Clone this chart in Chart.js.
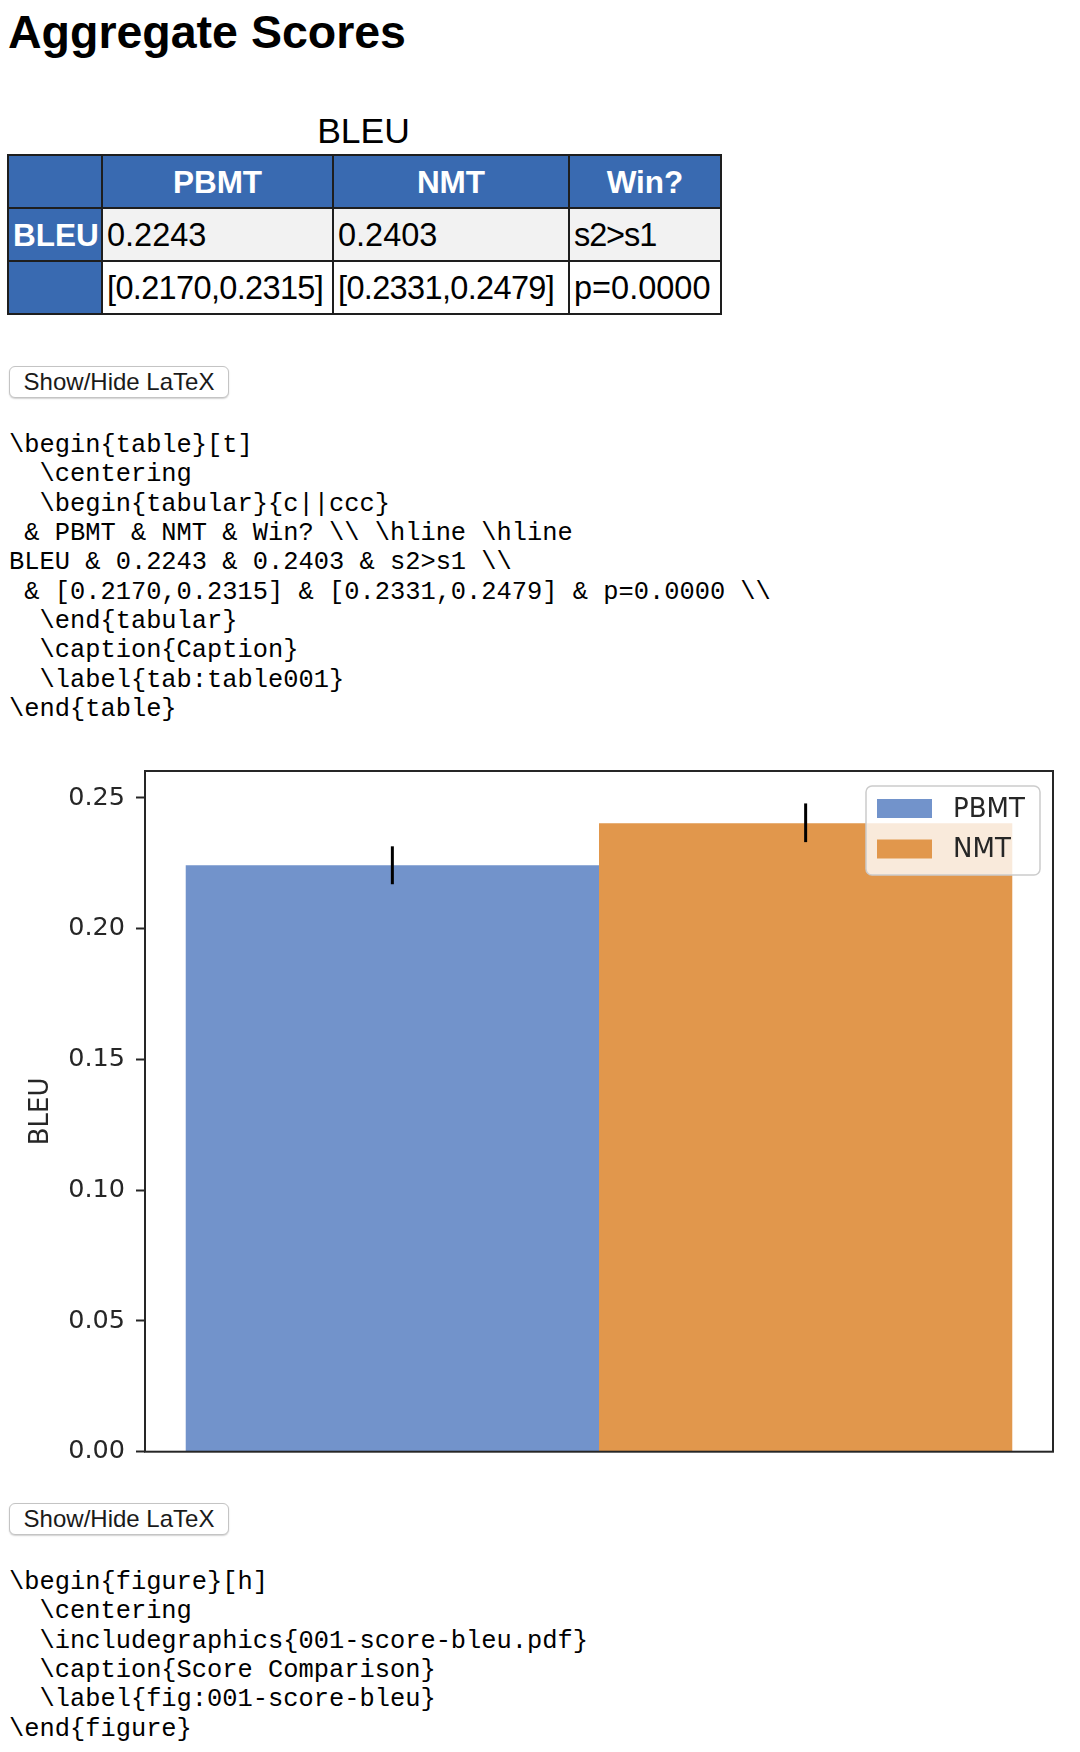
<!DOCTYPE html>
<html>
<head>
<meta charset="utf-8">
<title>Aggregate Scores</title>
<script src="https://cdn.jsdelivr.net/npm/chart.js@4.4.1/dist/chart.umd.min.js"></script>
<style>
html,body{margin:0;padding:0;background:#fff;width:1080px;height:1752px;overflow:hidden;}
body{position:relative;font-family:"Liberation Sans",Arial,Helvetica,sans-serif;color:#000;}
h1{position:absolute;left:8px;top:4px;margin:0;font-size:46.5px;line-height:56px;font-weight:bold;white-space:nowrap;}
.cap{position:absolute;left:7px;width:713px;top:111px;text-align:center;font-size:35.5px;line-height:40px;}
table{position:absolute;left:7px;top:154px;border-collapse:collapse;table-layout:fixed;width:713px;}
td,th{border:2px solid #1e1e1e;height:51px;padding:0 4px;font-size:32.5px;line-height:36px;white-space:nowrap;overflow:visible;}
th{background:#396AB1;color:#fff;font-weight:bold;font-size:31.5px;text-align:center;}
td{text-align:left;}
td.ci{letter-spacing:-0.65px;}
td.win{letter-spacing:-1.1px;}
tr.r1 td{background:#f2f2f2;}
.btn{position:absolute;left:9px;width:220px;height:32px;box-sizing:border-box;border:1px solid #c4c4c4;border-radius:6px;background:#fff;box-shadow:0 1px 1.5px rgba(0,0,0,0.18);font-size:24px;line-height:30px;text-align:center;color:#1a1a1a;}
pre{position:absolute;left:9px;margin:0;font-family:"Liberation Mono","DejaVu Sans Mono",monospace;font-size:25.4px;line-height:29.35px;color:#000;}
#chartWrap{position:absolute;left:0;top:740px;width:1080px;height:738px;}
</style>
</head>
<body>
<h1>Aggregate Scores</h1>
<div class="cap" id="tcap">BLEU</div>
<table id="scoreTable">
<colgroup><col style="width:94px"><col style="width:231px"><col style="width:236px"><col style="width:152px"></colgroup>
<tbody id="tbody"></tbody>
</table>
<div class="btn" style="top:366px">Show/Hide LaTeX</div>
<pre style="top:431px">\begin{table}[t]
  \centering
  \begin{tabular}{c||ccc}
 &amp; PBMT &amp; NMT &amp; Win? \\ \hline \hline
BLEU &amp; 0.2243 &amp; 0.2403 &amp; s2&gt;s1 \\
 &amp; [0.2170,0.2315] &amp; [0.2331,0.2479] &amp; p=0.0000 \\
  \end{tabular}
  \caption{Caption}
  \label{tab:table001}
\end{table}</pre>
<div id="chartWrap"><canvas id="chart" width="1080" height="738"></canvas></div>
<div class="btn" style="top:1503px">Show/Hide LaTeX</div>
<pre style="top:1568px">\begin{figure}[h]
  \centering
  \includegraphics{001-score-bleu.pdf}
  \caption{Score Comparison}
  \label{fig:001-score-bleu}
\end{figure}</pre>

<script>
// ---- data ----
const metricName = 'BLEU';
const categories = ['BLEU'];
const seriesNames = ['PBMT', 'NMT'];
const pbmtScore = [0.2243];
const nmtScore = [0.2403];
const pbmtLow = [0.2170];
const pbmtHigh = [0.2315];
const nmtLow = [0.2331];
const nmtHigh = [0.2479];
const winLabel = 's2>s1';
const pLabel = 'p=0.0000';
const yTicks = [0, 0.05, 0.10, 0.15, 0.20, 0.25];

// ---- table built from the data ----
(function buildTable(){
  const tb = document.getElementById('tbody');
  const mk = (tag, txt, cls) => { const e = document.createElement(tag); e.textContent = txt; if (cls) e.className = cls; return e; };
  const r0 = document.createElement('tr');
  r0.appendChild(mk('th', ''));
  seriesNames.forEach(n => r0.appendChild(mk('th', n)));
  r0.appendChild(mk('th', 'Win?'));
  const r1 = document.createElement('tr'); r1.className = 'r1';
  r1.appendChild(mk('th', metricName));
  r1.appendChild(mk('td', pbmtScore[0].toFixed(4)));
  r1.appendChild(mk('td', nmtScore[0].toFixed(4)));
  r1.appendChild(mk('td', winLabel, 'win'));
  const r2 = document.createElement('tr');
  r2.appendChild(mk('th', ''));
  r2.appendChild(mk('td', '[' + pbmtLow[0].toFixed(4) + ',' + pbmtHigh[0].toFixed(4) + ']', 'ci'));
  r2.appendChild(mk('td', '[' + nmtLow[0].toFixed(4) + ',' + nmtHigh[0].toFixed(4) + ']', 'ci'));
  r2.appendChild(mk('td', pLabel));
  tb.appendChild(r0); tb.appendChild(r1); tb.appendChild(r2);
})();

// ---- plugins ----
const errorBarPlugin = {
  id: 'errorBars',
  afterDatasetsDraw(chart) {
    const ctx = chart.ctx, y = chart.scales.y;
    chart.data.datasets.forEach((ds, i) => {
      const meta = chart.getDatasetMeta(i);
      meta.data.forEach((bar, j) => {
        const lo = y.getPixelForValue(ds.ciLow[j]);
        const hi = y.getPixelForValue(ds.ciHigh[j]);
        ctx.save();
        ctx.strokeStyle = '#000';
        ctx.lineWidth = 3;
        ctx.beginPath();
        ctx.moveTo(bar.x, lo);
        ctx.lineTo(bar.x, hi);
        ctx.stroke();
        ctx.restore();
      });
    });
  }
};

const framePlugin = {
  id: 'frame',
  afterDraw(chart) {
    const a = chart.chartArea, ctx = chart.ctx;
    ctx.save();
    ctx.strokeStyle = '#262626';
    ctx.lineWidth = 2;
    ctx.strokeRect(a.left, a.top, a.right - a.left, a.bottom - a.top);
    ctx.restore();
  }
};

const boxLegendPlugin = {
  id: 'boxLegend',
  afterDraw(chart) {
    const a = chart.chartArea, ctx = chart.ctx;
    const bw = 174, bh = 89;
    const bx = a.right - 13 - bw, by = a.top + 15;
    ctx.save();
    ctx.beginPath();
    if (ctx.roundRect) ctx.roundRect(bx, by, bw, bh, 6); else ctx.rect(bx, by, bw, bh);
    ctx.fillStyle = 'rgba(255,255,255,0.8)';
    ctx.fill();
    ctx.strokeStyle = '#cccccc';
    ctx.lineWidth = 1.5;
    ctx.stroke();
    ctx.font = '26px "DejaVu Sans"';
    ctx.textBaseline = 'middle';
    ctx.textAlign = 'left';
    chart.data.datasets.forEach((ds, i) => {
      const sy = by + 13 + i * 40.5;
      ctx.fillStyle = ds.backgroundColor;
      ctx.fillRect(bx + 11, sy, 55, 19);
      ctx.fillStyle = '#262626';
      ctx.fillText(ds.label, bx + 87, sy + 11);
    });
    ctx.restore();
  }
};

// ---- chart ----
new Chart(document.getElementById('chart'), {
  type: 'bar',
  data: {
    labels: categories,
    datasets: [
      { label: seriesNames[0], data: pbmtScore, ciLow: pbmtLow, ciHigh: pbmtHigh,
        backgroundColor: '#7293CB', borderWidth: 0, categoryPercentage: 0.9103, barPercentage: 1.0 },
      { label: seriesNames[1], data: nmtScore, ciLow: nmtLow, ciHigh: nmtHigh,
        backgroundColor: '#E1974C', borderWidth: 0, categoryPercentage: 0.9103, barPercentage: 1.0 }
    ]
  },
  options: {
    responsive: false,
    animation: false,
    devicePixelRatio: 1,
    layout: { padding: { left: 0, top: 31, right: 27, bottom: 20 } },
    plugins: { legend: { display: false }, tooltip: { enabled: false } },
    scales: {
      x: { type: 'category', display: false, offset: true, grid: { display: false } },
      y: {
        min: 0, max: 0.2603,
        afterFit: s => { s.width = 145; },
        afterBuildTicks: s => { s.ticks = yTicks.map(v => ({ value: v })); },
        ticks: { padding: 11, color: '#262626', font: { family: 'DejaVu Sans', size: 25.5 },
                 callback: v => Number(v).toFixed(2) },
        grid: { display: true, drawOnChartArea: false, drawTicks: true, tickLength: 9, tickWidth: 2, tickColor: '#262626' },
        border: { display: false },
        title: { display: true, text: metricName, color: '#262626',
                 font: { family: 'DejaVu Sans', size: 26 }, padding: { top: 26, bottom: 0 } }
      }
    }
  },
  plugins: [errorBarPlugin, framePlugin, boxLegendPlugin]
});
</script>
</body>
</html>
